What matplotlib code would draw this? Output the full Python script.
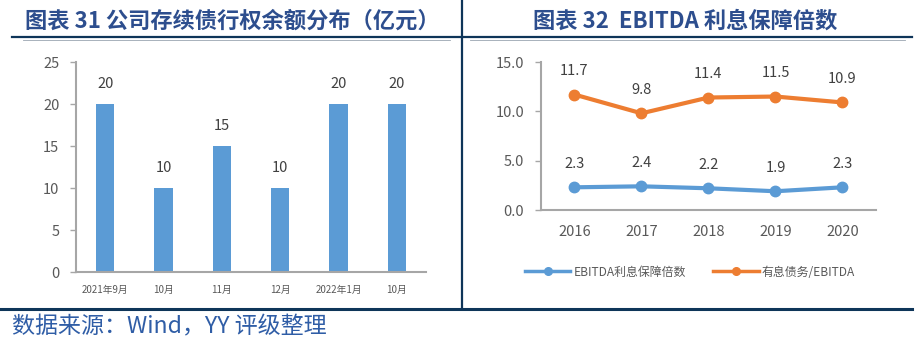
import matplotlib
matplotlib.use("Agg")
import matplotlib.pyplot as plt
from matplotlib.lines import Line2D

plt.rcParams['font.family'] = ['Noto Sans CJK SC', 'DejaVu Sans']

# Left panel: outstanding bond balance by exercise month (亿元)
months = ["2021年9月", "10月", "11月", "12月", "2022年1月", "10月"]
balances = [20, 10, 15, 10, 20, 20]

# Right panel: EBITDA coverage
years = ["2016", "2017", "2018", "2019", "2020"]
ebitda_cover = [2.3, 2.4, 2.2, 1.9, 2.3]
debt_to_ebitda = [11.7, 9.8, 11.4, 11.5, 10.9]

W, H = 920, 342
fig = plt.figure(figsize=(W / 100, H / 100), dpi=100)

BLUE = "#5B9BD5"
ORANGE = "#ED7D31"
AXIS = "#A6A6A6"
TICKTXT = "#595959"
LABEL = "#404040"
TITLE = "#2D4E8E"
NAVY = "#0E3559"
SRC = "#2F5DA6"


def px_axes(x0, y_top, x1, y_bot):
    return fig.add_axes([x0 / W, 1 - y_bot / H, (x1 - x0) / W, (y_bot - y_top) / H])


def style_axes(ax):
    for s in ("top", "right"):
        ax.spines[s].set_visible(False)
    for s in ("left", "bottom"):
        ax.spines[s].set_color(AXIS)
        ax.spines[s].set_linewidth(1.5)
    ax.tick_params(axis="y", direction="out", length=4, width=1, color=AXIS,
                   labelcolor=TICKTXT, labelsize=10.5, pad=8)
    ax.tick_params(axis="x", length=0, labelcolor=TICKTXT)


# ---- left chart ----
ax1 = px_axes(76, 62, 426, 272)
style_axes(ax1)
xs = range(len(months))
ax1.bar(xs, balances, width=0.31, color=BLUE)
ax1.set_xlim(-0.5, len(months) - 0.5)
ax1.set_ylim(0, 25)
ax1.set_yticks([0, 5, 10, 15, 20, 25])
ax1.set_xticks(list(xs))
ax1.set_xticklabels(months, fontsize=7)
ax1.tick_params(axis="x", pad=9)
for x, v in zip(xs, balances):
    ax1.annotate(f"{v}", (x, v), xytext=(0, 9), textcoords="offset points",
                 ha="center", va="bottom", fontsize=10.5, color=LABEL)

# ---- right chart ----
ax2 = px_axes(541, 62, 876, 210)
style_axes(ax2)
xr = range(len(years))
ax2.plot(xr, ebitda_cover, color=BLUE, lw=3, marker="o", ms=7.5,
         solid_capstyle="round", label="EBITDA利息保障倍数")
ax2.plot(xr, debt_to_ebitda, color=ORANGE, lw=3, marker="o", ms=7.5,
         solid_capstyle="round", label="有息债务/EBITDA")
ax2.set_xlim(-0.5, len(years) - 0.5)
ax2.set_ylim(0, 15)
ax2.set_yticks([0, 5, 10, 15])
ax2.set_yticklabels([f"{v:.1f}" for v in (0, 5, 10, 15)])
ax2.set_xticks(list(xr))
ax2.set_xticklabels(years, fontsize=10.5)
ax2.tick_params(axis="x", pad=11)
for x, v in zip(xr, ebitda_cover):
    ax2.annotate(f"{v:.1f}", (x, v), xytext=(0, 12), textcoords="offset points",
                 ha="center", va="bottom", fontsize=10.5, color=LABEL)
for x, v in zip(xr, debt_to_ebitda):
    ax2.annotate(f"{v:.1f}", (x, v), xytext=(0, 12), textcoords="offset points",
                 ha="center", va="bottom", fontsize=10.5, color=LABEL)

legend_handles = [
    Line2D([], [], color=BLUE, lw=2.5, marker="o", ms=5.5),
    Line2D([], [], color=ORANGE, lw=2.5, marker="o", ms=5.5),
]
leg = ax2.legend(legend_handles, ["EBITDA利息保障倍数", "有息债务/EBITDA"],
                 loc="center", bbox_to_anchor=(690 / W, 1 - 272 / H),
                 bbox_transform=fig.transFigure, ncol=2, frameon=False,
                 fontsize=8.6, handlelength=3.8, columnspacing=2.3,
                 handletextpad=0.25)
for t in leg.get_texts():
    t.set_color(TICKTXT)

# ---- titles, rules and source ----
fig.text(25 / W, 1 - 21 / H, "图表 31 公司存续债行权余额分布（亿元）", fontsize=16,
         fontweight="bold", color=TITLE, ha="left", va="center")
fig.text(685 / W, 1 - 21 / H, "图表 32  EBITDA 利息保障倍数", fontsize=16,
         fontweight="bold", color=TITLE, ha="center", va="center")

def hline(y, x0, x1, lw, color):
    fig.add_artist(Line2D([x0 / W, x1 / W], [1 - y / H, 1 - y / H], lw=lw, color=color))

def vline(x, y0, y1, lw, color):
    fig.add_artist(Line2D([x / W, x / W], [1 - y0 / H, 1 - y1 / H], lw=lw, color=color))

hline(37, 12, 460, 1.6, NAVY)
hline(37, 464, 912, 1.6, NAVY)
hline(39.5, 23, 450, 0.6, "#9AA5B1")
hline(39.5, 470, 905, 0.6, "#9AA5B1")
vline(462, 0, 309, 1.6, NAVY)
hline(309, 0, 912, 2.2, NAVY)

fig.text(12 / W, 1 - 327 / H, "数据来源：Wind，YY 评级整理", fontsize=16.6,
         color=SRC, ha="left", va="center")

fig.savefig("out.png", dpi=100)
